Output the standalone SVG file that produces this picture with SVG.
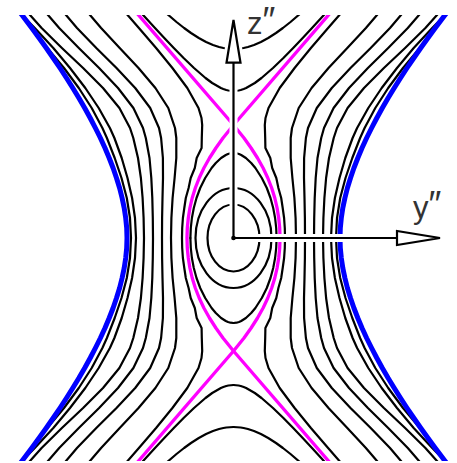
<svg xmlns="http://www.w3.org/2000/svg" width="457" height="463" viewBox="0 0 457 463">
<style>
.k{fill:none;stroke:#000;stroke-width:2.2;stroke-linejoin:round;stroke-linecap:round}
.m{fill:none;stroke:#f0f;stroke-width:3.3;stroke-linejoin:round}
.b{fill:none;stroke:#00f;stroke-width:5;stroke-linejoin:round}
.w{fill:#fff;stroke:none}
.halo{fill:none;stroke:#fff;stroke-width:8;stroke-linejoin:round}
.ax{fill:none;stroke:#000;stroke-width:2.2}
.head{fill:#fff;stroke:#000;stroke-width:2.2;stroke-linejoin:miter}
.lbl{font-family:"Liberation Sans","DejaVu Sans",sans-serif;font-size:31px;fill:#333}
</style>
<defs>
<clipPath id="plot"><rect x="0" y="15" width="457" height="446"/></clipPath>
<g id="qk" class="k">
<path d="M131,238 L130,218 L126.8,198 L121.5,178 L114.7,158 L106.9,138 L102.4,128 L91.7,108 L78.8,88 L64,68 L47.3,48 L29.8,28 L18,15 L2.8,-2"/>
<path d="M136,238 L135,218 L132.1,198 L127.5,178 L121.7,158 L114.4,138 L109.9,128 L98.7,108 L85.3,88 L70,68 L53.3,48 L34.8,28 L22,15 L5.8,-2"/>
<path d="M144,238 L143.6,218 L142.6,198 L140.9,178 L138,158 L133.3,138 L130,128 L119.4,108 L103,88 L83.1,68 L61.9,48 L41.6,28 L30,15 L15.9,-2"/>
<path d="M153,238 L152.8,218 L152.3,198 L151.3,178 L149.5,158 L145.8,138 L143,128 L133.4,108 L118,88 L99.1,68 L78.8,48 L59.2,28 L48,15 L34.4,-2"/>
<path d="M162,238 L162.1,218 L162.5,198 L163,178 L162.9,158 L161.1,138 L159,128 L150.2,108 L135.2,88 L116.5,68 L96.3,48 L77,28 L66,15 L52.7,-2"/>
<path d="M171,238 L171.4,218 L172.6,198 L174.6,178 L176.3,158 L176.3,138 L175,128 L168.3,108 L155.4,88 L138.5,68 L119.7,48 L101.1,28 L90,15 L76.4,-2"/>
<path d="M182,238 L182.2,228 L182.9,218 L184.3,208 L185.8,198 L188.6,188 L190.7,178 L194.8,168 L196.7,158 L201.6,148 L201.8,138 L202.1,128 L202.2,125 L201.5,118 L198.5,108 L187.3,88 L172.4,68 L156.1,48 L138.9,28 L127.6,15 L112.6,-2"/>
<path d="M190.4,238 L190.8,228 L191.9,218 L193.8,208 L196.5,198 L200.2,188 L205.2,178 L211.6,168 L215.8,163 L221.1,158 L225.8,155 L228,154 L230.5,153.3 L233.5,153"/>
<path d="M233.5,91 L228.4,90.5 L226.3,90 L223.3,89 L220.9,88 L212.2,83 L205.5,78 L194,68 L183.6,58 L173.8,48 L164.3,38 L155,28 L143.1,15 L127.8,-2"/>
<path d="M233.5,49 L226.3,48.5 L223.4,48 L219.1,47 L213,45 L206.1,42 L198.8,38 L191,33 L184.1,28 L176.5,22 L168.3,15 L150.1,-2"/>
</g>
<path id="qw" class="w" d="M127,238 L126.7,228 L125.7,218 L124.2,208 L122.1,198 L119.6,188 L116.5,178 L113.1,168 L109.2,158 L105,148 L100.4,138 L95.4,128 L90.2,118 L84.7,108 L78.9,98 L72.8,88 L66.5,78 L60,68 L53.2,58 L46.3,48 L39.1,38 L31.8,28 L22,15 L8.8,-2 L-10,-2 L-10,238 Z"/>
<path id="qm" class="m" d="M187,238 L187.3,228 L188.3,218 L189.9,208 L192.2,198 L195.3,188 L199.2,178 L203.9,168 L209.5,158 L215.9,148 L223,138 L233.5,125 M233.5,125 L123.8,-2"/>
<path id="qb" class="b" d="M127,238 L126.7,228 L125.7,218 L124.2,208 L122.1,198 L119.6,188 L116.5,178 L113.1,168 L109.2,158 L105,148 L100.4,138 L95.4,128 L90.2,118 L84.7,108 L78.9,98 L72.8,88 L66.5,78 L60,68 L53.2,58 L46.3,48 L39.1,38 L31.8,28 L22,15 L8.8,-2"/>
</defs>
<g id="contours" clip-path="url(#plot)">
<g id="black-levels">
<use href="#qk"/>
<use href="#qk" transform="matrix(-1 0 0 1 467 0)"/>
<use href="#qk" transform="matrix(1 0 0 -1 0 476)"/>
<use href="#qk" transform="matrix(-1 0 0 -1 467 476)"/>
<ellipse class="k" cx="233.5" cy="238" rx="38" ry="50"/>
<ellipse class="k" cx="233.5" cy="238" rx="26" ry="33.5"/>
</g>
<g id="outside-mask">
<use href="#qw"/>
<use href="#qw" transform="matrix(-1 0 0 1 467 0)"/>
<use href="#qw" transform="matrix(1 0 0 -1 0 476)"/>
<use href="#qw" transform="matrix(-1 0 0 -1 467 476)"/>
</g>
<g id="separatrix">
<use href="#qm"/>
<use href="#qm" transform="matrix(-1 0 0 1 467 0)"/>
<use href="#qm" transform="matrix(1 0 0 -1 0 476)"/>
<use href="#qm" transform="matrix(-1 0 0 -1 467 476)"/>
</g>
<g id="boundary">
<use href="#qb"/>
<use href="#qb" transform="matrix(-1 0 0 1 467 0)"/>
<use href="#qb" transform="matrix(1 0 0 -1 0 476)"/>
<use href="#qb" transform="matrix(-1 0 0 -1 467 476)"/>
</g>
</g>
<g id="axes">
<path class="halo" d="M233.5,238 V62 M233.5,238 H397"/>
<path class="halo" d="M233.5,20 L226.5,62.7 L240.5,62.7 Z M440,238 L397,231 L397,245 Z"/>
<path class="ax" d="M233.5,238 V62 M233.5,238 H397"/>
<path class="head" d="M233.5,20 L226.5,62.7 L240.5,62.7 Z"/>
<path class="head" d="M440,238 L397,231 L397,245 Z"/>
<circle cx="233.5" cy="238" r="2.3" fill="#000"/>
</g>
<g id="labels">
<text class="lbl" x="247" y="34">z<tspan font-size="36" dy="-1">″</tspan></text>
<text class="lbl" x="413" y="218">y<tspan font-size="36" dy="-1">″</tspan></text>
</g>
</svg>
